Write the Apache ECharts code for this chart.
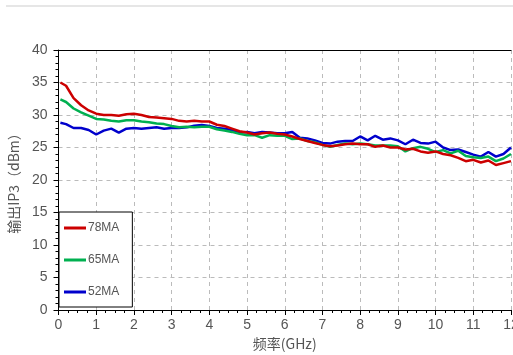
<!DOCTYPE html>
<html>
<head>
<meta charset="utf-8">
<script src="https://cdn.jsdelivr.net/npm/echarts@6/dist/echarts.min.js"></script>
<style>
  html, body { margin: 0; padding: 0; background: #fff; }
  #chart { width: 513px; height: 355px; }
</style>
</head>
<body>
<div id="chart"></div>
<script>
// Frequency samples (GHz)
const freq = [0.05, 0.2, 0.4, 0.6, 0.8, 1.0, 1.2, 1.4, 1.6, 1.8, 2.0, 2.2, 2.4, 2.6, 2.8, 3.0,
  3.2, 3.4, 3.6, 3.8, 4.0, 4.2, 4.4, 4.6, 4.8, 5.0, 5.2, 5.4, 5.6, 5.8, 6.0, 6.2, 6.4, 6.6, 6.8,
  7.0, 7.2, 7.4, 7.6, 7.8, 8.0, 8.2, 8.4, 8.6, 8.8, 9.0, 9.2, 9.4, 9.6, 9.8, 10.0, 10.2, 10.4,
  10.6, 10.8, 11.0, 11.2, 11.4, 11.6, 11.8, 12.0];

// Output IP3 (dBm) for each bias setting
const ip3_78MA = [35.0, 34.5, 32.6, 31.5, 30.7, 30.2, 30.0, 30.0, 29.9, 30.1, 30.2, 30.0, 29.7,
  29.6, 29.5, 29.4, 29.1, 29.0, 29.1, 29.0, 29.0, 28.5, 28.3, 27.9, 27.5, 27.3, 27.0, 27.2, 27.3,
  27.1, 27.0, 26.7, 26.3, 26.0, 25.7, 25.4, 25.2, 25.3, 25.5, 25.6, 25.5, 25.5, 25.1, 25.3, 25.0,
  25.0, 24.7, 24.8, 24.4, 24.2, 24.4, 24.0, 23.8, 23.4, 22.9, 23.1, 22.7, 23.0, 22.3, 22.6, 22.9];

const ip3_65MA = [32.4, 32.0, 31.0, 30.4, 29.9, 29.4, 29.3, 29.1, 29.0, 29.2, 29.2, 29.0, 28.9,
  28.7, 28.6, 28.3, 28.1, 28.2, 28.1, 28.2, 28.2, 27.8, 27.6, 27.4, 27.1, 26.9, 26.9, 26.5, 26.9,
  26.8, 26.8, 26.3, 26.4, 26.0, 25.8, 25.4, 25.1, 25.4, 25.6, 25.5, 25.6, 25.5, 25.3, 25.3, 25.3,
  25.2, 24.4, 24.9, 25.1, 24.8, 24.3, 24.6, 24.1, 24.5, 23.7, 23.5, 23.4, 23.6, 22.9, 23.3, 24.0];

const ip3_52MA = [28.8, 28.6, 28.0, 28.0, 27.7, 27.0, 27.6, 27.9, 27.3, 27.9, 28.0, 27.9, 28.0,
  28.1, 27.9, 28.0, 28.0, 28.1, 28.35, 28.45, 28.3, 28.0, 27.9, 27.7, 27.3, 27.4, 27.2, 27.4, 27.3,
  27.2, 27.2, 27.4, 26.5, 26.4, 26.1, 25.7, 25.6, 25.9, 26.0, 26.0, 26.7, 26.1, 26.8, 26.2, 26.4,
  26.1, 25.5, 26.2, 25.7, 25.6, 25.9, 25.0, 24.6, 24.7, 24.3, 23.9, 23.6, 24.3, 23.6, 24.0, 25.0];

const seriesNames = ['78MA', '65MA', '52MA'];
const seriesColors = ['#cc0000', '#00b050', '#0000cc'];
const seriesValues = [ip3_78MA, ip3_65MA, ip3_52MA];

const pairs = vals => freq.map((f, i) => [f, vals[i]]);

const labelFont = 'Liberation Sans, Arial, sans-serif';
const cjkFont = 'Noto Sans CJK SC, sans-serif';

const chart = echarts.init(document.getElementById('chart'), null, { renderer: 'canvas' });

chart.setOption({
  animation: false,
  backgroundColor: '#fff',
  graphic: [{
    type: 'rect',
    shape: { x: 6, y: 5, width: 520, height: 2 },
    style: { fill: '#e6e6e6' },
    silent: true
  }],
  grid: { left: 58.5, right: 2, top: 50, bottom: 45, containLabel: false, outerBoundsMode: 'none' },
  legend: {
    orient: 'vertical',
    left: 59,
    top: 212,
    padding: [10, 13, 9, 5],
    itemGap: 20,
    itemWidth: 22,
    itemHeight: 3,
    icon: 'rect',
    backgroundColor: '#fff',
    borderColor: '#000',
    borderWidth: 1,
    borderRadius: 0,
    textStyle: { color: '#555', fontSize: 12, fontFamily: labelFont, padding: [0, 0, 0, -3] },
    data: seriesNames
  },
  xAxis: [{
    type: 'value',
    min: 0, max: 12, interval: 1,
    name: '频率(GHz)',
    nameLocation: 'middle',
    nameGap: 27,
    nameTextStyle: { color: '#555', fontSize: 14, fontFamily: cjkFont },
    axisLine: { show: true, lineStyle: { color: '#000', width: 1 } },
    axisTick: { show: true, inside: false, length: 5, lineStyle: { color: '#000' } },
    minorTick: { show: true, splitNumber: 4, length: 3, lineStyle: { color: '#000' } },
    axisLabel: { color: '#555', fontSize: 14, margin: 8, fontFamily: labelFont },
    splitLine: { show: true, lineStyle: { color: '#bbb', type: [4, 4], width: 1 } }
  }, {
    type: 'value',
    position: 'top',
    min: 0, max: 12,
    axisLine: { show: true, onZero: false, lineStyle: { color: '#000', width: 1 } },
    axisTick: { show: false },
    axisLabel: { show: false },
    splitLine: { show: false }
  }],
  yAxis: {
    type: 'value',
    min: 0, max: 40, interval: 5,
    name: '输出IP3（dBm）',
    nameLocation: 'middle',
    nameGap: 30,
    nameRotate: 90,
    nameTextStyle: { color: '#555', fontSize: 14, fontFamily: cjkFont },
    axisLine: { show: true, lineStyle: { color: '#000', width: 1 } },
    axisTick: { show: true, inside: false, length: 5, lineStyle: { color: '#000' } },
    minorTick: { show: true, splitNumber: 5, length: 3, lineStyle: { color: '#000' } },
    axisLabel: { color: '#555', fontSize: 14, margin: 11, fontFamily: labelFont },
    splitLine: { show: true, lineStyle: { color: '#bbb', type: [4, 4], width: 1 } }
  },
  series: seriesNames.map((name, k) => ({
    name: name,
    type: 'line',
    xAxisIndex: 0,
    data: pairs(seriesValues[k]),
    showSymbol: false,
    symbol: 'none',
    lineStyle: { color: seriesColors[k], width: 2.5 },
    itemStyle: { color: seriesColors[k] },
    z: 3 + (2 - k)
  }))
});
</script>
</body>
</html>
